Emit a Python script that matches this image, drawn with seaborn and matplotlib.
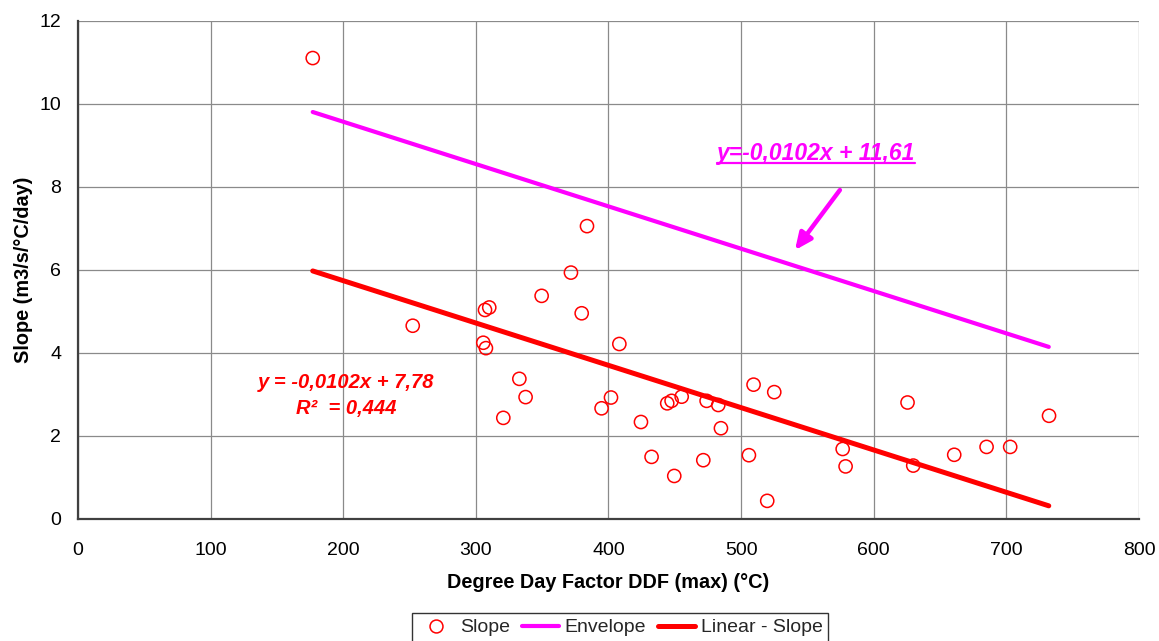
import matplotlib
matplotlib.use("Agg")
import matplotlib.pyplot as plt
import seaborn as sns
import pandas as pd
from matplotlib.lines import Line2D

# ---- data ----
ddf = [177, 252.4, 306.9, 310.1, 305.6, 307.6, 320.7, 332.8, 337.5, 349.6,
       371.7, 379.8, 383.8, 394.8, 401.9, 408.2, 424.5, 432.5, 444.3, 447.6,
       449.6, 455.2, 471.5, 474.0, 482.8, 484.8, 505.9, 509.4, 519.7, 525.0,
       576.6, 578.8, 625.5, 629.8, 660.7, 685.1, 702.9, 732.2]
slope = [11.1, 4.65, 5.03, 5.09, 4.24, 4.11, 2.43, 3.37, 2.93, 5.37,
         5.93, 4.95, 7.05, 2.66, 2.92, 4.21, 2.33, 1.49, 2.78, 2.84,
         1.03, 2.94, 1.41, 2.84, 2.74, 2.18, 1.53, 3.23, 0.43, 3.05,
         1.68, 1.26, 2.80, 1.28, 1.54, 1.73, 1.73, 2.48]

line_x = [177, 732]
envelope_y = [9.80, 4.14]
linear_y = [5.97, 0.31]

env_label = "y=-0,0102x + 11,61"
fit_label = "y = -0,0102x + 7,78\nR²  = 0,444"

x_ticks = [0, 100, 200, 300, 400, 500, 600, 700, 800]
y_ticks = [0, 2, 4, 6, 8, 10, 12]

# ---- styling ----
sns.set_style("white")
plt.rcParams['font.family'] = ['Liberation Sans', 'DejaVu Sans']

fig = plt.figure(figsize=(11.59, 6.41), dpi=100)
ax = fig.add_axes([0.0673, 0.1908, 0.9154, 0.7769])

pts = pd.DataFrame({"DDF": ddf, "Slope": slope})
env = pd.DataFrame({"x": line_x, "y": envelope_y})
lin = pd.DataFrame({"x": line_x, "y": linear_y})

sns.lineplot(data=env, x="x", y="y", ax=ax, color="#ff00ff", linewidth=3.0, zorder=3)
sns.lineplot(data=lin, x="x", y="y", ax=ax, color="#ff0000", linewidth=3.6, zorder=3)
sns.scatterplot(data=pts, x="DDF", y="Slope", ax=ax, marker="o", s=90,
                facecolors="none", edgecolor="#ff0000", linewidth=1.1, zorder=4)

ax.set_xlim(0, 800)
ax.set_ylim(0, 12)
ax.set_xticks(x_ticks)
ax.set_yticks(y_ticks)
ax.tick_params(axis="both", labelsize=14, length=6, width=1.2, colors="#404040",
               direction="out")
ax.tick_params(axis="x", pad=10.5)
ax.tick_params(axis="y", pad=6)
for lbl in ax.get_xticklabels() + ax.get_yticklabels():
    lbl.set_color("black")
ax.grid(True, color="#8a8a8a", linewidth=0.9, linestyle="-")
ax.set_axisbelow(True)
for side in ["top", "right"]:
    ax.spines[side].set_visible(False)
for side in ["left", "bottom"]:
    ax.spines[side].set_color("#404040")
    ax.spines[side].set_linewidth(1.6)

ax.set_xlabel("Degree Day Factor DDF (max) (°C)", fontsize=14.3, fontweight="bold",
              labelpad=10.2, color="black")
ax.set_ylabel("Slope (m3/s/°C/day)", fontsize=14.3, fontweight="bold",
              labelpad=5, color="black")

# annotations
ax.text(202, 2.97, fit_label, color="#ff0000", fontsize=14.5, fontweight="bold",
        fontstyle="italic", ha="center", va="center", linespacing=1.45, zorder=5)
env_txt = ax.text(556.5, 8.81, env_label, color="#ff00ff", fontsize=16.5, fontweight="bold",
                  fontstyle="italic", ha="center", va="center", zorder=5)
ax.annotate("", xy=(540.6, 6.47), xytext=(574.5, 7.92),
            arrowprops=dict(arrowstyle="-|>,head_width=0.45,head_length=1.0",
                            color="#ff00ff", lw=3.2, shrinkA=0, shrinkB=0), zorder=5)

# underline for envelope label
fig.canvas.draw()
bb = env_txt.get_window_extent(renderer=fig.canvas.get_renderer())
inv = fig.transFigure.inverted()
(x0, y0), (x1, _) = inv.transform([(bb.x0, bb.y0), (bb.x1, bb.y0)])
fig.add_artist(Line2D([x0, x1], [y0 + 0.002, y0 + 0.002], transform=fig.transFigure,
                      color="#ff00ff", linewidth=1.6))

handles = [
    Line2D([], [], marker="o", linestyle="none", markerfacecolor="none",
           markeredgecolor="#ff0000", markersize=9.3, markeredgewidth=1.1),
    Line2D([], [], color="#ff00ff", linewidth=3.0),
    Line2D([], [], color="#ff0000", linewidth=3.6),
]
leg = fig.legend(handles, ["Slope", "Envelope", "Linear - Slope"], loc="upper center",
                 bbox_to_anchor=(0.535, 1 - 613 / 641), ncol=3, frameon=True, fontsize=14,
                 fancybox=False, edgecolor="black", handlelength=1.9,
                 handletextpad=0.3, columnspacing=0.6, borderpad=0.3,
                 borderaxespad=0)
leg.get_frame().set_linewidth(1.0)

fig.savefig("out.png", dpi=100)
